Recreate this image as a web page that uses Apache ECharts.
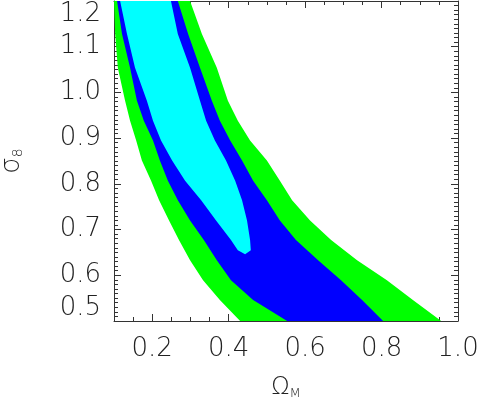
<!DOCTYPE html>
<html>
<head>
<meta charset="utf-8">
<script src="https://cdn.jsdelivr.net/npm/echarts@6/dist/echarts.min.js"></script>
<style>
  html, body { margin: 0; padding: 0; background: #fff; }
  #chart { width: 483px; height: 397px; }
</style>
</head>
<body>
<div id="chart"></div>
<script>
// σ8 取值（绿、蓝两层共用）
const sigma8Levels = [1.200, 1.128, 1.054, 0.982, 0.938, 0.895, 0.851, 0.807, 0.764, 0.720, 0.677, 0.633, 0.589, 0.546, 0.500]
// 外层（绿色）左右边界 Ω_M
const greenLeft = [0.100, 0.103, 0.110, 0.129, 0.142, 0.158, 0.173, 0.197, 0.218, 0.244, 0.270, 0.299, 0.333, 0.377, 0.430]
const greenRight = [0.299, 0.330, 0.369, 0.398, 0.424, 0.456, 0.500, 0.534, 0.566, 0.613, 0.668, 0.736, 0.814, 0.882, 0.956]
// 中层（蓝色）左右边界
const blueLeft = [0.108, 0.121, 0.142, 0.160, 0.178, 0.202, 0.220, 0.241, 0.267, 0.299, 0.335, 0.369, 0.406, 0.464, 0.553]
const blueRight = [0.267, 0.294, 0.325, 0.356, 0.377, 0.404, 0.435, 0.464, 0.500, 0.534, 0.576, 0.634, 0.694, 0.749, 0.804]
// 内层（青色）左右边界及下端尖点
const cyanLevels = [1.200, 1.128, 1.054, 0.982, 0.938, 0.895, 0.851, 0.807, 0.764, 0.720, 0.677, 0.655]
const cyanLeft = [0.116, 0.134, 0.155, 0.186, 0.202, 0.223, 0.252, 0.286, 0.328, 0.367, 0.406, 0.424]
const cyanRight = [0.249, 0.267, 0.299, 0.325, 0.341, 0.364, 0.393, 0.417, 0.435, 0.448, 0.456, 0.458]
const cyanTip = [0.443, 0.646]
// 刻度
const xLabelValues = [0.2, 0.4, 0.6, 0.8, 1.0]
const xMajorTicks = [0.2, 0.4, 0.6, 0.8]

const axisColor = '#333'
const fontFamily = "'DejaVu Sans ExtraLight', 'DejaVu Sans', sans-serif"
const labelFont = { fontFamily, fontSize: 26, fontWeight: 200, color: '#222' }

// 左右边界拼成多边形
const toPolygon = (levels, left, right, tip) => {
  const pts = left.map((x, i) => [x, levels[i]])
  if (tip) pts.push(tip)
  for (let i = right.length - 1; i >= 0; i--) pts.push([right[i], levels[i]])
  return pts
}

const regionSeries = (points, color) => ({
  type: 'custom',
  clip: true,
  silent: true,
  data: points,
  renderItem: (params, api) => {
    if (params.dataIndex !== 0) return null
    return {
      type: 'polygon',
      shape: { points: points.map(p => api.coord(p)) },
      style: { fill: color }
    }
  }
})

// x 轴：短刻度 + 长刻度两层
const xBase = (position, withLabel) => ({
  type: 'value',
  position,
  min: 0.1,
  max: 1.0,
  interval: 0.05,
  axisLine: { show: true, onZero: false, lineStyle: { color: axisColor } },
  axisTick: { inside: true, length: 4, lineStyle: { color: axisColor } },
  axisLabel: withLabel
    ? { customValues: xLabelValues, formatter: v => v.toFixed(1), margin: 15, ...labelFont }
    : { show: false },
  splitLine: { show: false }
})
const xMajor = (position) => ({
  type: 'value',
  position,
  min: 0.1,
  max: 1.0,
  axisLine: { show: false },
  axisTick: { inside: true, length: 7, customValues: xMajorTicks, lineStyle: { color: axisColor } },
  axisLabel: { show: false },
  splitLine: { show: false }
})

// y 轴：主刻度 0.1，次刻度 0.01
const yBase = (position, withLabel) => ({
  type: 'value',
  position,
  min: 0.5,
  max: 1.2,
  interval: 0.1,
  axisLine: { show: true, onZero: false, lineStyle: { color: axisColor } },
  axisTick: { inside: true, length: 7, lineStyle: { color: axisColor } },
  minorTick: { show: true, splitNumber: 10, length: 4, lineStyle: { color: axisColor } },
  axisLabel: withLabel
    ? {
        formatter: v => v.toFixed(1),
        margin: 13,
        verticalAlignMinLabel: 'bottom',
        verticalAlignMaxLabel: 'top',
        ...labelFont
      }
    : { show: false },
  splitLine: { show: false },
  minorSplitLine: { show: false }
})

const chart = echarts.init(document.getElementById('chart'))

const xMain = xBase('bottom', true)
xMain.name = '{o|Ω}{m|M}'
xMain.nameLocation = 'middle'
xMain.nameGap = 55
xMain.nameTextStyle = {
  rich: {
    o: { fontFamily, fontWeight: 200, fontSize: 24, color: '#222' },
    m: { fontFamily, fontWeight: 200, fontSize: 13, color: '#222', verticalAlign: 'bottom' }
  }
}

const yMain = yBase('left', true)
yMain.name = '{s|σ}{n|8}'
yMain.nameLocation = 'middle'
yMain.nameGap = 89
yMain.nameRotate = 90
yMain.nameTextStyle = {
  rich: {
    s: { fontFamily, fontWeight: 200, fontSize: 26, color: '#222' },
    n: { fontFamily, fontWeight: 200, fontSize: 14, color: '#222', verticalAlign: 'bottom' }
  }
}

const option = {
  animation: false,
  backgroundColor: '#fff',
  grid: { left: 114, right: 25, top: 1, bottom: 76, containLabel: false, outerBoundsMode: 'none' },
  xAxis: [xMain, xMajor('bottom'), xBase('top', false), xMajor('top')],
  yAxis: [yMain, yBase('right', false)],
  series: [
    regionSeries(toPolygon(sigma8Levels, greenLeft, greenRight), '#00ff00'),
    regionSeries(toPolygon(sigma8Levels, blueLeft, blueRight), '#0000ff'),
    regionSeries(toPolygon(cyanLevels, cyanLeft, cyanRight, cyanTip), '#00ffff')
  ]
}

chart.setOption(option)
</script>
</body>
</html>
